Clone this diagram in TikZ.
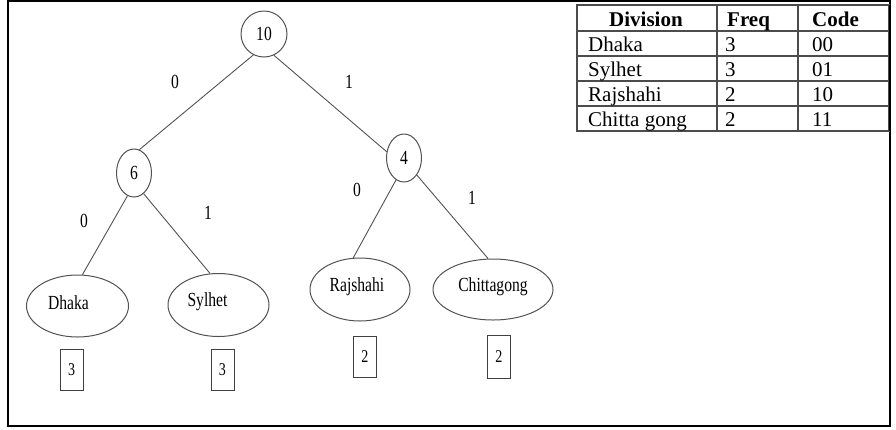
\documentclass[tikz,border=0pt]{standalone}
\usepackage{fontspec}
\setmainfont{Liberation Serif}
\newfontfamily\cond[FakeStretch=0.78]{Liberation Serif}
\usetikzlibrary{shapes.geometric}
\begin{document}
\begin{tikzpicture}[x=1pt,y=-1pt,
  treeline/.style={draw=black!68, line width=0.9pt},
  treefont/.style={font=\cond\fontsize{20}{22}\selectfont},
  rootnode/.style={circle, draw=black!68, line width=1pt, minimum size=46pt, inner sep=0pt, treefont},
  innode/.style={ellipse, draw=black!68, line width=1pt, minimum width=35pt, minimum height=48pt, inner sep=0pt, treefont},
  leaf/.style={ellipse, draw=black!68, line width=1pt, inner sep=0pt},
  leaftext/.style={treefont},
  freqbox/.style={draw=black!75, line width=1pt, minimum width=23pt, minimum height=41pt, inner sep=0pt, font=\cond\fontsize{18}{20}\selectfont},
  bitlabel/.style={treefont, inner sep=0pt},
  tabline/.style={draw=black!70, line width=1.1pt},
  tabtext/.style={font=\fontsize{21}{23}\selectfont, inner sep=0pt, anchor=base west},
  tabhead/.style={font=\bfseries\fontsize{21}{23}\selectfont, inner sep=0pt, anchor=base west}
]
\useasboundingbox (0,0) rectangle (896,429);
\draw[black, line width=1.2pt] (8,1) rectangle (890,426);

% tree nodes
\node[rootnode] (root) at (264,34) {10};
\node[innode] (six) at (134,173) {6};
\node[innode] (four) at (404,158) {4};
\node[leaf, minimum width=102pt, minimum height=62pt,
  label={[leaftext, xshift=-9pt, yshift=3pt]center:Dhaka}] (dhaka) at (77.5,306) {};
\node[leaf, minimum width=101pt, minimum height=63pt,
  label={[leaftext, xshift=-11pt, yshift=3pt]center:Sylhet}] (sylhet) at (218.5,305) {};
\node[leaf, minimum width=100pt, minimum height=63pt,
  label={[leaftext, xshift=-3pt, yshift=2.5pt]center:Rajshahi}] (rajshahi) at (360,289.5) {};
\node[leaf, minimum width=120pt, minimum height=61pt,
  label={[leaftext, xshift=0pt, yshift=2.5pt]center:Chittagong}] (chittagong) at (493,289.5) {};

% frequency boxes
\node[freqbox] (fdhaka) at (71.7,370) {3};
\node[freqbox] (fsylhet) at (222.5,370) {3};
\node[freqbox] (frajshahi) at (365,357) {2};
\node[freqbox, minimum height=43pt] (fchittagong) at (499,356.5) {2};

% edges
\draw[treeline] (root.-117.5) -- (six.77.7);
\draw[treeline] (root.-65.6) -- (four.160.6);
\draw[treeline] (six.-106) -- (dhaka.81.7);
\draw[treeline] (six.-65.4) -- (sylhet.105.8);
\draw[treeline] (four.-110.6) -- (rajshahi.102.5);
\draw[treeline] (four.-53.7) -- (chittagong.99.7);

% bit labels
\node[bitlabel] (b1) at (175,82) {0};
\node[bitlabel] (b2) at (349,82) {1};
\node[bitlabel] (b3) at (84,221) {0};
\node[bitlabel] (b4) at (208,213) {1};
\node[bitlabel] (b5) at (357,190) {0};
\node[bitlabel] (b6) at (472,198) {1};

% table
\draw[tabline] (577,5) rectangle (889,131);
\foreach \yy in {31,56,81,106} \draw[tabline] (577,\yy) -- (889,\yy);
\draw[tabline] (717,5) -- (717,131);
\draw[tabline] (798,5) -- (798,131);
\draw[black, line width=1.6pt] (889.5,5) -- (889.5,131);

\node[tabhead] (h1) at (609,26) {Division};
\node[tabhead] (h2) at (727,26) {Freq};
\node[tabhead] (h3) at (812,26) {Code};

\node[tabtext] (r1a) at (588,51) {Dhaka};
\node[tabtext] (r1b) at (725,51) {3};
\node[tabtext] (r1c) at (812,51) {00};
\node[tabtext] (r2a) at (588,76) {Sylhet};
\node[tabtext] (r2b) at (725,76) {3};
\node[tabtext] (r2c) at (812,76) {01};
\node[tabtext] (r3a) at (588,101) {Rajshahi};
\node[tabtext] (r3b) at (725,101) {2};
\node[tabtext] (r3c) at (812,101) {10};
\node[tabtext] (r4a) at (588,126) {Chitta gong};
\node[tabtext] (r4b) at (725,126) {2};
\node[tabtext] (r4c) at (812,126) {11};
\end{tikzpicture}
\end{document}
